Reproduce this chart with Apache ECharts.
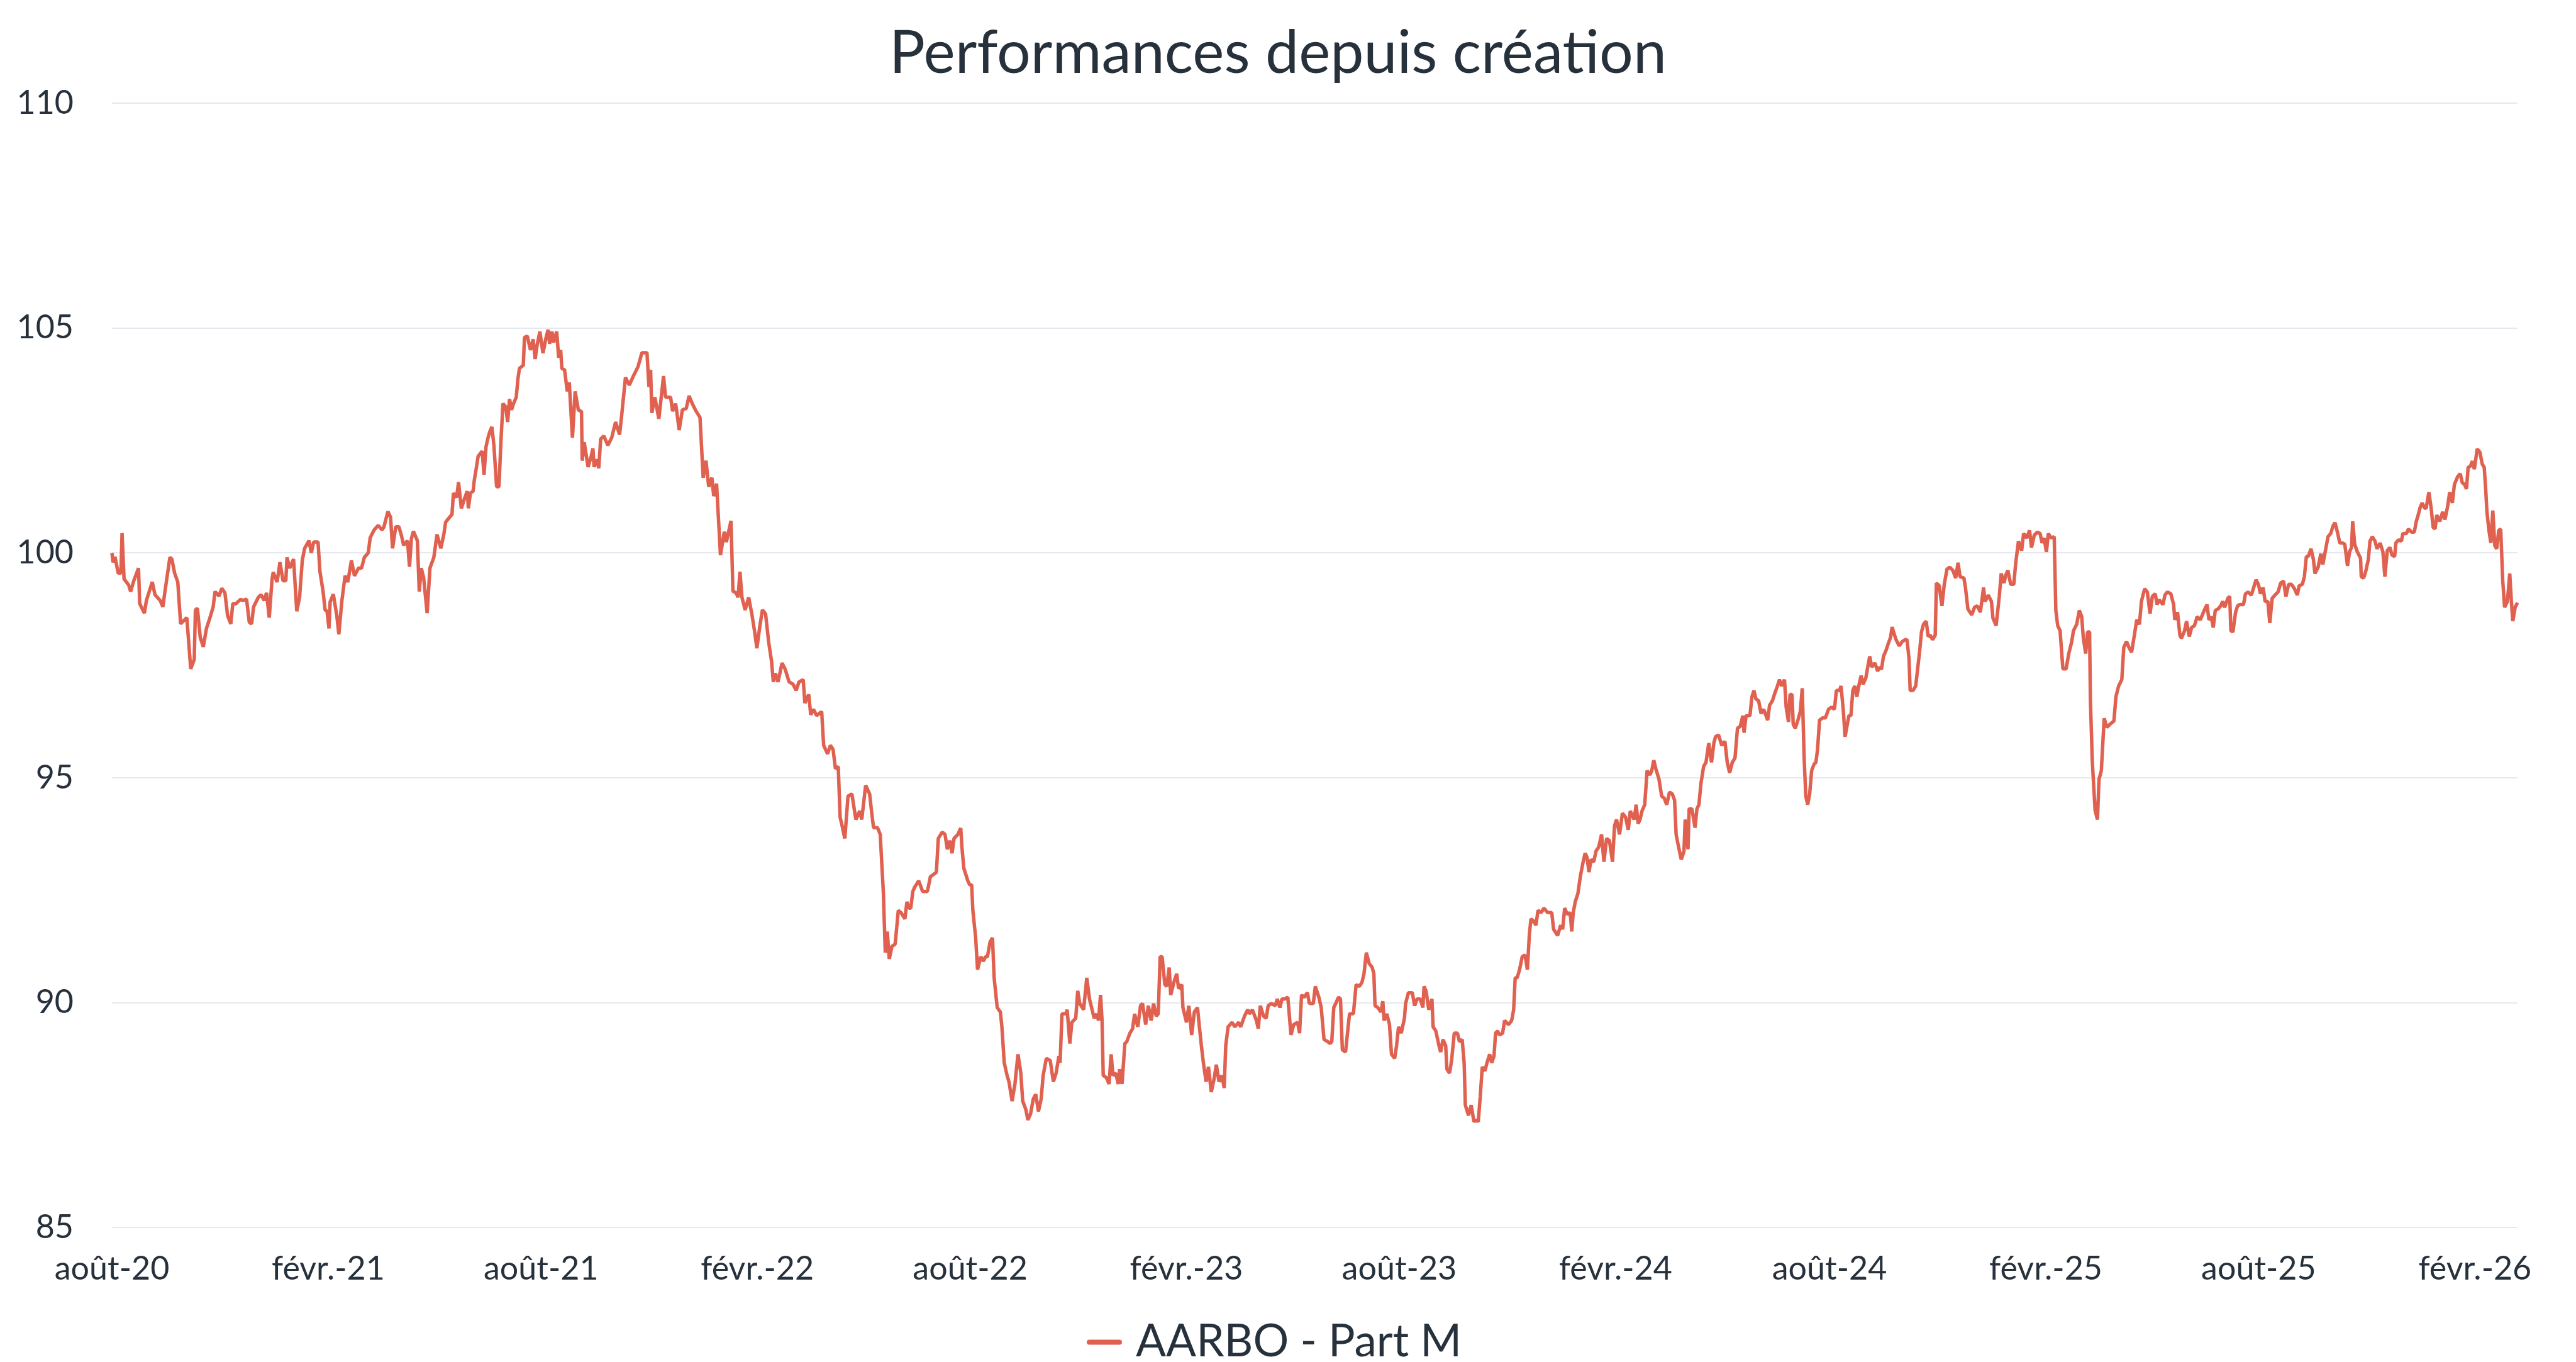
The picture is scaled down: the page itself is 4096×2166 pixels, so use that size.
<!DOCTYPE html>
<html>
<head>
<meta charset="utf-8">
<title>Performances depuis création</title>
<script src="https://cdn.jsdelivr.net/npm/echarts@6/dist/echarts.min.js"></script>
<style>
  html, body { margin: 0; padding: 0; background: #fff; }
  #perf_echarts { width: 4096px; height: 2166px; }
</style>
</head>
<body>
<div id="perf_echarts"></div>
<script>
// jours depuis le 01/08/2020
var dayOffsets = [
  0, 0.9, 2.6, 5.3, 7.6, 8.6, 10.3, 14.3, 15.9, 18.6, 22.6, 23.6, 27.6, 29.3, 34.3, 36.6, 41.0, 43.3, 45.3, 49.3,
  51.0, 53.3, 56.0, 58.4, 61.0, 63.7, 66.0, 67.0, 70.0, 71.0, 72.7, 75.1, 77.7, 80.4, 83.4, 86.1, 87.7, 91.1, 93.4, 96.1,
  98.4, 101.1, 102.8, 105.5, 109.5, 111.1, 114.5, 116.8, 118.8, 120.5, 124.5, 126.8, 129.5, 131.5, 133.8, 136.2, 137.2, 140.5, 142.9, 145.5,
  147.9, 148.9, 151.2, 154.5, 157.2, 159.6, 161.9, 163.9, 167.6, 169.6, 171.6, 175.3, 176.9, 179.6, 181.3, 183.0, 184.6, 185.6, 188.3, 191.3,
  193.0, 195.6, 198.3, 200.6, 203.7, 206.3, 209.7, 212.3, 214.7, 218.0, 219.7, 223.0, 226.4, 229.7, 231.4, 234.7, 237.0, 238.7, 241.4, 244.1,
  246.4, 248.1, 251.4, 253.1, 254.7, 256.4, 259.8, 261.4, 263.1, 265.1, 268.1, 270.5, 273.8, 276.5, 279.8, 282.5, 283.8, 287.1, 289.2, 290.5,
  293.2, 294.8, 297.2, 299.8, 302.2, 303.2, 304.9, 307.2, 308.2, 309.9, 311.5, 314.9, 316.5, 318.2, 319.9, 321.5, 323.2, 324.9, 327.2, 329.2,
  330.9, 332.6, 334.9, 336.6, 338.2, 339.9, 341.6, 343.9, 345.3, 346.6, 349.9, 350.9, 353.3, 356.0, 358.3, 360.0, 361.6, 364.0, 366.6, 369.3,
  371.0, 372.3, 374.3, 375.7, 378.3, 380.0, 381.7, 382.7, 385.0, 387.3, 389.0, 391.7, 394.0, 396.7, 399.4, 400.0, 401.7, 405.0, 407.4, 409.1,
  410.1, 412.4, 414.1, 415.7, 418.4, 421.8, 425.1, 428.4, 431.8, 433.4, 436.8, 440.1, 443.5, 447.5, 450.8, 455.1, 456.8, 458.2, 459.2, 461.8,
  465.2, 469.2, 470.9, 475.2, 476.9, 479.5, 482.5, 485.2, 488.5, 490.9, 493.6, 496.9, 500.2, 502.9, 505.3, 507.6, 510.3, 511.9, 514.3,
  517.6, 520.9, 522.6, 526.6, 528.2, 530.9, 532.6, 534.2, 535.9, 538.6, 541.6, 544.3, 546.6, 548.6, 551.0, 553.3, 556.0, 558.6, 561.0, 562.6,
  564.3, 566.6, 570.0, 572.7, 576.0, 579.3, 582.0, 584.4, 588.0, 589.4, 592.7, 594.4, 596.7, 599.4, 603.7, 605.4, 608.7, 611.1, 613.4, 615.4,
  617.8, 619.4, 621.1, 623.4, 626.1, 629.4, 632.8, 636.1, 637.8, 641.1, 644.5, 646.1, 647.8, 651.2, 653.5, 656.2, 657.8, 659.5, 661.2, 663.5,
  666.2, 668.9, 671.2, 674.5, 676.2, 677.9, 679.5, 681.2, 682.9, 686.2, 689.6, 693.6, 696.2, 698.9, 701.3, 702.9, 706.3, 708.6, 710.6, 712.9,
  714.6, 716.3, 719.6, 722.0, 723.0, 724.6, 728.0, 729.6, 731.3, 732.3, 734.7, 736.3, 739.0, 741.3, 743.0, 744.7, 747.0, 749.0, 750.4, 753.0,
  755.7, 757.0, 759.0, 761.4, 763.0, 765.7, 768.1, 770.7, 773.1, 774.7, 777.4, 779.1, 781.4, 783.7, 785.8, 788.1, 790.4, 792.1, 794.8, 798.1,
  800.8, 803.1, 805.5, 806.5, 808.1, 811.5, 812.5, 814.8, 816.5, 819.8, 821.5, 823.2, 826.5, 829.2, 831.5, 835.5, 837.5, 839.2, 840.9, 842.2,
  843.2, 845.9, 848.2, 849.9, 851.5, 853.9, 855.9, 857.2, 859.2, 861.6, 863.2, 865.9, 868.2, 869.9, 872.6, 874.9, 876.6, 879.3, 881.6, 884.0,
  886.0, 888.3, 890.0, 891.6, 893.3, 895.6, 897.3, 899.3, 900.6, 903.3, 905.7, 907.3, 910.0, 911.0, 914.0, 916.0, 918.4, 920.7, 923.4, 925.0,
  926.7, 928.4, 930.7, 932.7, 935.1, 937.4, 939.4, 941.7, 944.1, 946.1, 947.4, 949.4, 952.8, 955.1, 958.4, 960.1, 963.4, 966.1, 967.4, 970.1,
  973.5, 975.1, 976.8, 979.5, 981.8, 983.5, 986.2, 989.5, 991.2, 993.5, 995.2, 997.5, 1000.2, 1002.9, 1005.2, 1008.5, 1010.2, 1011.9, 1014.2, 1016.9,
  1018.5, 1021.9, 1023.6,
  1026.6, 1028.6, 1031.0, 1034.3, 1036.0, 1037.6, 1039.3, 1041.0, 1043.3, 1045.0, 1046.6, 1049.3, 1052.7, 1056.0, 1058.3, 1061.0, 1063.3, 1065.0, 1067.0, 1069.4,
  1072.0, 1073.4, 1074.4, 1076.7, 1079.4, 1081.0, 1082.1, 1084.4, 1086.7, 1088.4, 1091.1, 1092.7, 1094.4, 1096.7, 1099.4, 1100.4, 1102.8, 1106.1, 1108.1, 1110.1,
  1112.8, 1115.1, 1116.1, 1117.8, 1120.1, 1122.8, 1123.8, 1126.1, 1128.8, 1130.2, 1132.2, 1134.5, 1135.5, 1137.8, 1139.5, 1141.8, 1144.5, 1146.2, 1148.5, 1150.2,
  1151.2, 1153.9, 1156.2, 1158.5, 1160.5, 1162.2, 1163.9, 1165.6, 1167.9, 1169.6, 1171.9, 1173.6, 1175.6, 1176.9, 1178.6, 1180.2, 1182.9, 1184.6, 1187.9, 1190.6,
  1192.3, 1193.6, 1195.3, 1197.3, 1199.6, 1202.0, 1204.0, 1205.6, 1207.0, 1209.0, 1211.3, 1213.0, 1215.7, 1218.0, 1221.3, 1224.7, 1226.3, 1229.7, 1232.3, 1234.0,
  1235.7, 1238.0, 1240.4, 1241.7, 1243.0, 1244.7, 1247.0, 1249.0, 1251.1, 1253.1, 1254.7, 1256.4, 1258.1, 1260.4, 1262.4, 1264.7, 1267.1, 1269.1, 1271.4, 1273.8,
  1276.4, 1278.1, 1279.8, 1282.4, 1284.8, 1287.5, 1289.8, 1291.5, 1294.8, 1296.5, 1298.2, 1299.8, 1301.5, 1303.8, 1305.8, 1308.2, 1309.8, 1311.5, 1313.2, 1315.9,
  1318.2, 1320.5, 1322.5, 1324.9, 1327.2, 1329.2, 1330.5, 1332.6, 1334.9, 1337.2, 1338.2, 1340.6, 1341.6, 1343.9, 1346.6, 1348.2, 1349.9, 1351.6, 1353.9, 1355.9,
  1358.3, 1360.6, 1362.6, 1364.0, 1366.6, 1369.3, 1372.0, 1374.0, 1376.0, 1378.3, 1380.6, 1382.7, 1385.0, 1387.3, 1388.3, 1390.0, 1393.3, 1395.0, 1396.7, 1398.4,
  1400.7, 1402.7, 1405.0, 1408.4, 1410.0, 1412.4, 1414.1, 1416.7, 1418.4, 1420.1, 1422.7, 1424.1, 1426.1, 1427.4, 1429.1, 1430.1, 1431.8, 1434.1, 1436.1, 1437.8,
  1439.4, 1440.8, 1442.4, 1444.1, 1445.8, 1447.8, 1449.4, 1450.8, 1452.5, 1455.1, 1457.5, 1460.1, 1462.8, 1465.2, 1466.8, 1469.5, 1470.8, 1472.8, 1474.2, 1475.8,
  1477.5, 1479.2, 1480.8, 1482.5, 1484.2, 1486.2, 1487.9, 1489.5, 1491.9, 1493.5, 1495.2, 1496.9, 1499.6, 1501.9, 1503.6, 1505.2, 1506.9, 1509.2, 1510.9, 1512.9,
  1514.2, 1516.3, 1517.6, 1520.3, 1522.6, 1525.3, 1526.9, 1528.6, 1529.6, 1532.0, 1534.3,
  1537.6, 1539.2, 1540.9, 1543.2, 1544.9, 1546.6, 1548.6, 1550.9, 1551.9, 1554.3, 1556.6, 1558.6, 1560.9, 1563.3, 1565.9, 1568.3, 1570.3, 1572.0, 1575.3, 1576.6,
  1578.7, 1582.0, 1584.3, 1586.7, 1589.3, 1592.0, 1593.3, 1596.0, 1598.7, 1600.0, 1602.7, 1605.4, 1607.0, 1609.4, 1611.0, 1612.7, 1615.1, 1617.7, 1619.4, 1621.7,
  1624.4, 1626.1, 1628.8, 1631.1, 1632.8, 1635.1, 1637.8, 1640.1, 1641.8, 1643.5, 1645.5, 1647.1, 1649.5, 1652.1, 1653.5, 1655.1, 1657.1, 1659.5, 1662.2, 1664.5,
  1666.8, 1668.5, 1671.2, 1673.5, 1675.5, 1676.9, 1678.9, 1680.5, 1682.2, 1682.9, 1684.5, 1686.9, 1688.9, 1690.2, 1692.2, 1694.6, 1696.9, 1699.6, 1702.9, 1704.6,
  1706.9, 1709.6, 1711.3, 1713.6, 1715.6, 1717.9, 1720.3, 1722.3, 1724.6, 1726.3, 1729.0, 1731.3, 1733.6, 1735.6, 1738.0, 1739.6, 1741.3, 1744.6, 1746.3, 1748.3,
  1751.3, 1753.7, 1754.7, 1757.0, 1759.0, 1760.3, 1763.0, 1764.7, 1767.0, 1769.0, 1771.4, 1773.7, 1776.4, 1779.7, 1782.1, 1783.7, 1785.7, 1787.4, 1789.1, 1791.4,
  1793.7, 1795.4, 1797.1, 1799.8, 1801.4, 1802.4, 1804.1, 1806.4, 1808.1, 1809.8, 1813.1, 1814.8, 1817.1, 1819.8, 1821.8, 1823.8, 1825.8, 1827.5, 1829.8, 1831.5,
  1833.8, 1835.5, 1837.5, 1839.8, 1842.5, 1844.8, 1847.2, 1849.2, 1851.5, 1853.9, 1856.5, 1858.9, 1860.5, 1863.2, 1864.9, 1866.6, 1868.2, 1870.6, 1872.6, 1873.9,
  1876.6, 1878.9, 1880.6, 1882.6, 1885.0, 1887.3, 1889.3, 1891.0, 1893.3, 1895.0, 1897.3, 1899.3, 1901.6, 1903.3, 1905.0, 1906.0, 1907.7, 1910.0, 1912.7, 1913.3,
  1915.3, 1917.3, 1919.3, 1920.7, 1922.7, 1925.0, 1926.7, 1929.4, 1931.7, 1933.4, 1935.4, 1937.7, 1939.4, 1941.7, 1942.7, 1945.0, 1947.4, 1948.7, 1951.7, 1953.4,
  1956.1, 1958.4, 1960.1, 1961.7, 1963.4, 1965.1, 1966.8, 1968.4, 1970.8, 1972.8, 1974.4, 1976.1, 1977.5, 1980.1, 1982.5, 1984.5, 1986.8, 1988.5, 1990.8, 1992.5,
  1995.2, 1997.5, 1999.2, 2001.2, 2002.8, 2004.2, 2006.2, 2007.8, 2009.5, 2011.9, 2014.2, 2016.2, 2017.9, 2019.2, 2020.2, 2021.9, 2023.5, 2025.2, 2026.9, 2028.5,
  2030.2, 2031.9, 2033.6, 2035.2, 2037.6, 2039.6, 2040.9, 2042.2, 2044.2, 2046.2
];

var navValues = [
  100.00, 99.79, 99.91, 99.55, 99.55, 100.44, 99.42, 99.28, 99.14, 99.38, 99.66, 98.87, 98.66, 98.94, 99.35, 99.07, 98.94, 98.80, 99.18, 99.90,
  99.86, 99.55, 99.35, 98.42, 98.49, 98.56, 97.77, 97.42, 97.63, 98.73, 98.77, 98.12, 97.91, 98.32, 98.56, 98.80, 99.14, 99.04, 99.21, 99.11,
  98.60, 98.42, 98.87, 98.87, 98.97, 98.94, 98.97, 98.46, 98.42, 98.80, 99.01, 99.07, 98.94, 99.11, 98.56, 99.42, 99.57, 99.35, 99.79, 99.38,
  99.38, 99.90, 99.66, 99.86, 98.70, 99.01, 99.83, 100.10, 100.27, 100.00, 100.24, 100.24, 99.59, 99.14, 98.73, 98.70, 98.32, 98.91, 99.08, 98.60,
  98.19, 98.94, 99.49, 99.35, 99.83, 99.49, 99.66, 99.66, 99.90, 100.00, 100.34, 100.51, 100.61, 100.51, 100.58, 100.92, 100.79, 100.10, 100.58, 100.58,
  100.37, 100.17, 100.27, 99.69, 100.31, 100.48, 100.27, 99.14, 99.66, 99.45, 98.66, 99.66, 99.90, 100.41, 100.10, 100.44, 100.68, 100.79, 100.85, 101.33,
  101.23, 101.57, 100.99, 101.20, 101.37, 100.99, 101.33, 101.37, 101.61, 101.88, 102.15, 102.26, 101.74, 102.36, 102.56, 102.70, 102.80, 102.39, 101.47, 101.47,
  102.49, 103.32, 103.25, 102.91, 103.42, 103.18, 103.32, 103.46, 103.86, 104.10, 104.17, 104.79, 104.82, 104.51, 104.75, 104.31, 104.61, 104.92, 104.44, 104.79,
  104.96, 104.65, 104.92, 104.68, 104.92, 104.34, 104.51, 104.10, 104.07, 103.59, 103.79, 102.56, 103.59, 103.18, 103.14, 102.05, 102.46, 101.91, 102.12, 102.32,
  101.91, 102.08, 101.88, 102.53, 102.60, 102.39, 102.56, 102.91, 102.63, 103.01, 103.90, 103.73, 103.93, 104.14, 104.45, 104.45, 103.69, 104.07, 103.11, 103.46,
  102.98, 103.93, 103.46, 103.46, 103.15, 103.32, 102.73, 103.18, 103.21, 103.49, 103.32, 103.15, 103.01, 101.67, 102.05, 101.47, 101.67, 101.26, 101.54,
  99.95, 100.47, 100.24, 100.71, 99.15, 99.11, 99.01, 99.58, 99.01, 98.73, 99.01, 98.64, 98.26, 97.88, 98.35, 98.73, 98.64, 98.02, 97.60, 97.13,
  97.32, 97.13, 97.55, 97.41, 97.13, 97.08, 96.94, 97.13, 97.18, 96.66, 96.85, 96.40, 96.52, 96.38, 96.47, 95.72, 95.53, 95.72, 95.63, 95.20,
  95.25, 94.12, 93.93, 93.65, 94.59, 94.64, 94.07, 94.26, 94.07, 94.83, 94.64, 94.26, 93.89, 93.89, 93.74, 92.43, 91.11, 91.58, 90.97, 91.25,
  91.30, 92.05, 92.00, 91.86, 92.24, 92.10, 92.10, 92.47, 92.57, 92.71, 92.47, 92.47, 92.80, 92.85, 92.90, 93.65, 93.79, 93.74, 93.41, 93.60,
  93.32, 93.65, 93.74, 93.88, 93.46, 92.99, 92.71, 92.62, 92.62, 92.05, 91.44, 90.73, 91.02, 90.92, 91.02, 91.02, 91.35, 91.44, 90.55, 89.89,
  89.79, 89.46, 88.66, 88.38, 88.24, 87.81, 88.19, 88.85, 88.43, 87.81, 87.62, 87.39, 87.53, 87.86, 87.96, 87.58, 87.86, 88.38, 88.76, 88.71,
  88.24, 88.43, 88.81, 88.66, 89.75, 89.75, 89.84, 89.09, 89.56, 89.65, 90.26, 89.98, 89.84, 90.55, 90.08, 89.65, 89.75, 89.60, 90.17, 89.60,
  88.38, 88.33, 88.19, 88.85, 88.38, 88.43, 88.19, 88.52, 88.19, 89.09, 89.13, 89.32, 89.42, 89.75, 89.46, 89.93, 89.98, 89.51, 89.93, 89.60,
  89.98, 89.70, 89.75, 91.02, 91.02, 90.40, 90.36, 90.78, 90.17, 90.45, 90.64, 90.31, 90.40, 89.89, 89.56, 89.93, 89.28, 89.79, 89.89, 89.46,
  89.04, 88.66, 88.24, 88.57, 88.01, 88.29, 88.62, 88.24, 88.38, 88.10, 89.04, 89.46, 89.56, 89.46, 89.56, 89.46, 89.70, 89.84, 89.75, 89.84,
  89.60, 89.42, 89.93, 89.70, 89.65, 89.93, 89.98, 89.93, 90.08, 89.89, 90.08, 90.08, 90.12, 89.28, 89.51, 89.56, 89.32, 90.17, 90.12, 90.22,
  89.98, 89.98, 90.36,
  90.12, 89.89, 89.18, 89.13, 89.09, 89.13, 89.89, 89.98, 90.12, 90.08, 88.95, 88.90, 89.75, 89.75, 90.40, 90.36, 90.45, 90.64, 91.11, 90.87,
  90.78, 90.64, 89.93, 89.89, 89.79, 90.03, 89.60, 89.75, 89.51, 88.85, 88.76, 89.04, 89.46, 89.32, 89.65, 89.98, 90.22, 90.22, 89.93, 90.08,
  90.08, 89.89, 90.36, 90.26, 89.84, 90.08, 89.46, 89.37, 89.04, 88.90, 89.18, 89.04, 88.52, 88.43, 88.71, 89.32, 89.32, 89.13, 89.18, 88.66,
  87.72, 87.49, 87.72, 87.35, 87.39, 87.35, 87.91, 88.57, 88.48, 88.66, 88.85, 88.66, 88.81, 89.32, 89.37, 89.28, 89.32, 89.60, 89.51, 89.60,
  89.84, 90.55, 90.55, 90.73, 91.02, 91.06, 90.73, 91.49, 91.86, 91.82, 91.72, 92.05, 92.00, 92.10, 92.00, 92.00, 91.63, 91.49, 91.72, 91.63,
  92.10, 91.96, 92.00, 91.58, 92.00, 92.24, 92.43, 92.80, 93.09, 93.32, 93.23, 92.90, 93.18, 93.13, 93.37, 93.46, 93.74, 93.13, 93.65, 93.60,
  93.13, 93.93, 94.07, 93.74, 94.21, 94.12, 93.84, 94.26, 94.07, 94.40, 93.98, 94.07, 94.26, 94.40, 95.16, 95.06, 95.16, 95.39, 95.20, 94.97,
  94.59, 94.54, 94.40, 94.68, 94.64, 94.50, 93.74, 93.46, 93.18, 93.37, 94.07, 93.41, 94.31, 94.31, 93.89, 94.31, 94.40, 94.87, 95.25, 95.34,
  95.77, 95.34, 95.77, 95.91, 95.95, 95.72, 95.81, 95.34, 95.11, 95.34, 95.44, 96.10, 96.14, 96.38, 96.00, 96.38, 96.38, 96.80, 96.94, 96.75,
  96.71, 96.43, 96.52, 96.28, 96.61, 96.71, 96.85, 97.04, 97.18, 97.04, 97.18, 96.57, 96.24, 96.85, 96.85, 96.19, 96.10, 96.28, 96.47, 96.99,
  95.44, 94.59, 94.40, 94.64, 95.16, 95.30, 95.34, 95.63, 96.28, 96.33, 96.33, 96.52, 96.57, 96.52, 96.94, 96.94, 97.04, 96.47, 95.91, 96.14,
  96.38, 96.38, 96.94, 97.04, 96.80, 97.08, 97.27, 97.08, 97.22, 97.46, 97.70, 97.46, 97.55, 97.37, 97.46, 97.41, 97.70, 97.84, 97.98, 98.12,
  98.35, 98.17, 98.07, 97.93, 98.02, 98.07, 98.07, 97.65, 96.94, 96.94, 97.04,
  97.80, 98.24, 98.41, 98.48, 98.14, 98.17, 98.07, 98.17, 99.33, 99.27, 98.82, 99.30, 99.64, 99.68, 99.61, 99.44, 99.78, 99.47, 99.44, 99.23,
  98.75, 98.62, 98.79, 98.82, 98.68, 99.23, 98.92, 99.06, 98.92, 98.55, 98.38, 99.03, 99.54, 99.33, 99.51, 99.61, 99.30, 99.30, 99.78, 100.26,
  100.05, 100.43, 100.33, 100.50, 100.12, 100.39, 100.46, 100.43, 100.22, 100.33, 100.02, 100.43, 100.33, 100.36, 98.72, 98.38, 98.27, 97.42, 97.42, 97.76,
  98.00, 98.27, 98.41, 98.72, 98.58, 98.10, 97.76, 98.24, 98.24, 96.73, 95.37, 94.27, 94.07, 94.96, 95.16, 96.32, 96.12, 96.19, 96.26, 96.80,
  97.04, 97.18, 97.90, 98.03, 97.90, 97.79, 98.17, 98.51, 98.41, 98.92, 99.20, 99.13, 98.65, 99.03, 99.09, 98.85, 98.96, 98.85, 99.06, 99.13,
  99.09, 98.85, 98.51, 98.68, 98.17, 98.10, 98.27, 98.48, 98.14, 98.34, 98.38, 98.58, 98.51, 98.72, 98.85, 98.51, 98.58, 98.34, 98.72, 98.75,
  98.82, 98.92, 98.79, 98.99, 99.03, 98.27, 98.24, 98.68, 98.82, 98.85, 98.85, 99.09, 99.13, 99.06, 99.23, 99.40, 99.30, 99.09, 99.23, 98.92,
  98.92, 98.44, 98.99, 99.06, 99.13, 99.33, 99.37, 99.03, 99.30, 99.30, 99.20, 99.06, 99.27, 99.30, 99.47, 99.92, 99.92, 100.09, 99.85, 99.54,
  99.68, 99.98, 99.74, 100.02, 100.36, 100.43, 100.60, 100.67, 100.43, 100.22, 100.22, 100.19, 99.71, 100.02, 100.12, 100.70, 100.19, 100.02, 99.88, 99.47,
  99.44, 99.61, 99.85, 100.26, 100.36, 100.26, 100.09, 100.22, 100.02, 99.47, 100.05, 100.12, 99.95, 99.92, 100.22, 100.29, 100.26, 100.43, 100.43, 100.53,
  100.46, 100.46, 100.70, 100.84, 101.01, 101.11, 101.01, 100.98, 101.35, 100.98, 100.57, 100.53, 100.84, 100.70, 100.91, 100.74, 101.04, 101.35, 101.11, 101.52,
  101.69, 101.76, 101.56, 101.52, 101.42, 101.90, 101.93, 102.04, 101.86, 102.31, 102.24, 101.97, 101.90, 101.39, 100.91, 100.50, 100.22, 100.94, 100.16, 100.09,
  100.50, 100.53, 99.40, 98.79, 98.92, 99.54, 98.96, 98.48, 98.79, 98.89
];

var tickDates = ["2020-08-01", "2021-02-01", "2021-08-01", "2022-02-01", "2022-08-01", "2023-02-01",
  "2023-08-01", "2024-02-01", "2024-08-01", "2025-02-01", "2025-08-01", "2026-02-01"];
var tickLabels = ["août-20", "févr.-21", "août-21", "févr.-22", "août-22", "févr.-23",
  "août-23", "févr.-24", "août-24", "févr.-25", "août-25", "févr.-26"];

var yMin = 85, yMax = 110, yStep = 5;
var serieName = "AARBO - Part M";

var DAY = 86400000;
var t0 = Date.parse(tickDates[0]);
var tickDays = tickDates.map(function (d) { return Math.round((Date.parse(d) - t0) / DAY); });
var lineData = dayOffsets.map(function (d, i) { return [d, navValues[i]]; });

var textColor = "#27313c";
var fontName = "Lato";

var chart = echarts.init(document.getElementById("perf_echarts"), null, { renderer: "canvas" });
chart.setOption({
  animation: false,
  backgroundColor: "#ffffff",
  title: {
    text: "Performances depuis création",
    left: 1414,
    top: 38,
    padding: 0,
    textStyle: { color: textColor, fontFamily: fontName, fontWeight: "normal", fontSize: 95 }
  },
  legend: {
    data: [serieName],
    left: 1728,
    top: 2099,
    padding: 0,
    itemWidth: 56,
    itemHeight: 8,
    icon: "path://M4,0 L52,0 A4,4 0 0 1 52,8 L4,8 A4,4 0 0 1 4,0 Z",
    textStyle: { color: textColor, fontFamily: fontName, fontSize: 71, padding: [0, 0, 0, 17] }
  },
  grid: {
    left: 178,
    right: 93,
    top: 164,
    bottom: 214,
    outerBoundsMode: "none"
  },
  xAxis: {
    type: "value",
    min: 0,
    max: "dataMax",
    axisLine: { show: false },
    axisTick: { show: false },
    splitLine: { show: false },
    axisLabel: {
      customValues: tickDays,
      margin: 40,
      color: textColor,
      fontFamily: fontName,
      fontSize: 52,
      formatter: function (v) {
        var i = tickDays.indexOf(Math.round(v));
        return i >= 0 ? tickLabels[i] : "";
      }
    }
  },
  yAxis: {
    type: "value",
    min: yMin,
    max: yMax,
    interval: yStep,
    axisLine: { show: false },
    axisTick: { show: false },
    splitLine: { lineStyle: { color: "#e5e8ee", width: 2 } },
    axisLabel: { margin: 61, color: textColor, fontFamily: fontName, fontSize: 52 }
  },
  series: [
    {
      name: serieName,
      type: "line",
      data: lineData,
      symbol: "none",
      color: "#e06150",
      lineStyle: { color: "#e06150", width: 5.5 }
    }
  ]
});
</script>
</body>
</html>
